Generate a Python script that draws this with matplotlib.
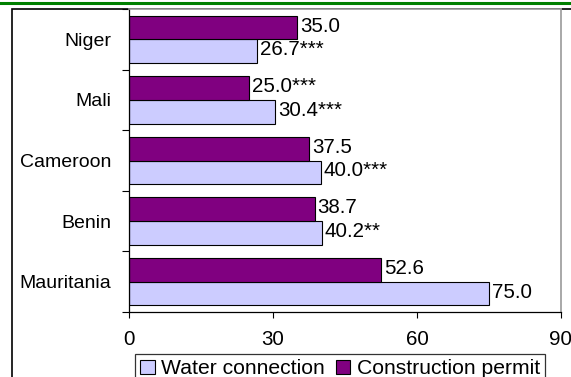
import numpy as np
import matplotlib.pyplot as plt
from matplotlib.lines import Line2D
from matplotlib.patches import Rectangle

plt.rcParams['font.family'] = ['Liberation Sans', 'DejaVu Sans']

# countries listed bottom to top
countries = ['Mauritania', 'Benin', 'Cameroon', 'Mali', 'Niger']
water = [75.0, 40.2, 40.0, 30.4, 26.7]
permit = [52.6, 38.7, 37.5, 25.0, 35.0]
water_labels = ['75.0', '40.2**', '40.0***', '30.4***', '26.7***']
permit_labels = ['52.6', '38.7', '37.5', '25.0***', '35.0']
xticks = [0, 30, 60, 90]

lavender = '#CCCCFF'
purple = '#800080'
fs = 14.8

fig = plt.figure(figsize=(5.71, 3.77), dpi=100)
ax = fig.add_axes([129/571, 1-312/377, (561-129)/571, (312-9)/377])

y = np.arange(len(countries))
h = 0.39
b1 = ax.barh(y - h/2, water, height=h, color=lavender, edgecolor='black', linewidth=0.8,
             label='Water connection')
b2 = ax.barh(y + h/2, permit, height=h, color=purple, edgecolor='black', linewidth=0.8,
             label='Construction permit')

for bars, labs in ((b1, water_labels), (b2, permit_labels)):
    for bar, lab in zip(bars, labs):
        ax.annotate(lab, (bar.get_width(), bar.get_y() + bar.get_height()/2),
                    xytext=(2, 1), textcoords='offset points', va='center', ha='left',
                    fontsize=fs)

ax.set_xlim(0, 90)
ax.set_ylim(-0.5, len(countries) - 0.5)
ax.set_xticks(xticks)
ax.tick_params(axis='x', direction='out', length=4, width=0.8, pad=9, labelsize=fs)

# category labels sit between the boundary ticks
ax.set_yticks(y)
ax.set_yticklabels(countries)
ax.tick_params(axis='y', which='major', length=0, pad=13, labelsize=fs - 0.8)
ax.set_yticks(np.arange(len(countries) + 1) - 0.5, minor=True)
ax.tick_params(axis='y', which='minor', direction='out', length=5, width=0.8)

for s in ('top', 'right'):
    ax.spines[s].set_color('#999999')
    ax.spines[s].set_linewidth(1.2)
for s in ('left', 'bottom'):
    ax.spines[s].set_linewidth(0.9)

leg = fig.legend(handles=[b1, b2], loc='upper center', bbox_to_anchor=(340/571, 1-354/377),
                 ncol=2, fontsize=fs + 0.4, frameon=True, fancybox=False, edgecolor='black',
                 handlelength=0.7, handleheight=0.7, handletextpad=0.3,
                 columnspacing=0.5, borderpad=0.25, borderaxespad=0)
leg.get_frame().set_linewidth(0.9)

# outer frame and green rule at the top
fig.add_artist(Rectangle((12/571, -0.1), 1.2, 1.1 - 9/377, transform=fig.transFigure,
                         fill=False, edgecolor='black', linewidth=1.2, zorder=0))
fig.add_artist(Line2D([0, 1], [1 - 2.5/377, 1 - 2.5/377], transform=fig.transFigure,
                      color='#008000', linewidth=2.2))

fig.savefig('out.png', dpi=100)
